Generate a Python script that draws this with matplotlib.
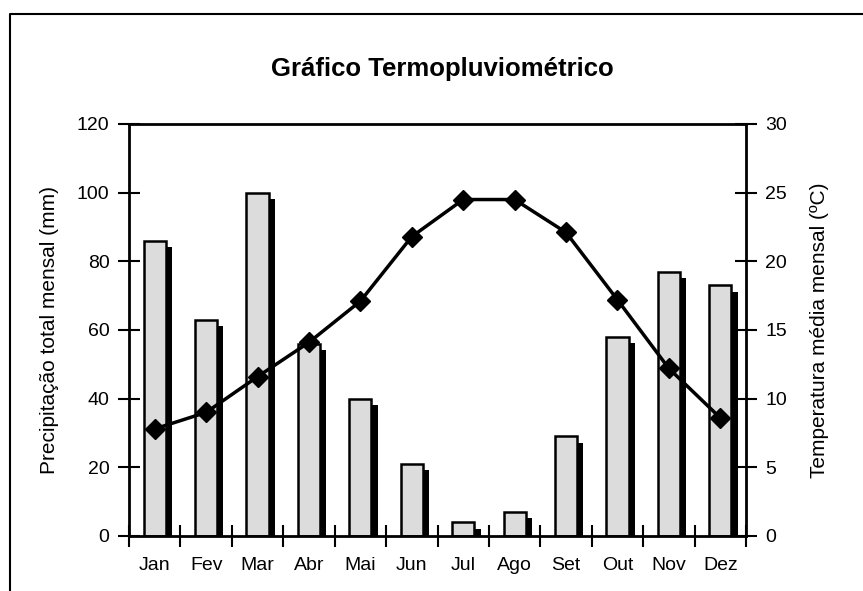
import matplotlib
matplotlib.use("Agg")
import matplotlib.pyplot as plt
import matplotlib.patheffects as pe
from matplotlib.lines import Line2D
import numpy as np

plt.rcParams['font.family'] = ['Liberation Sans', 'DejaVu Sans']

months = ["Jan", "Fev", "Mar", "Abr", "Mai", "Jun", "Jul", "Ago", "Set", "Out", "Nov", "Dez"]
precip = [86, 63, 100, 56, 40, 21, 4, 7, 29, 58, 77, 73]
temp = [7.8, 9.0, 11.6, 14.1, 17.1, 21.8, 24.5, 24.5, 22.1, 17.2, 12.2, 8.6]
left_ticks = [0, 20, 40, 60, 80, 100, 120]
right_ticks = [0, 5, 10, 15, 20, 25, 30]

fig = plt.figure(figsize=(8.63, 5.91), dpi=100)
ax = fig.add_axes([129/863, 1-536/591, (746-129)/863, (536-124)/591])
x = np.arange(len(months))

bars = ax.bar(x, precip, width=0.43, color="#dcdcdc", edgecolor="black", linewidth=1.8, zorder=2)
for b in bars:
    b.set_path_effects([pe.SimplePatchShadow(offset=(4.5, -4.5), shadow_rgbFace="black", alpha=1.0), pe.Normal()])

ax.set_xlim(-0.5, len(months) - 0.5)
ax.set_ylim(0, 120)
ax.set_yticks(left_ticks)
ax.set_xticks(x)
ax.set_xticklabels(months)
ax.tick_params(axis='x', length=0, pad=15, labelsize=14)
ax.set_xticks(np.arange(len(months) + 1) - 0.5, minor=True)
ax.tick_params(axis='x', which='minor', direction='inout', length=16, width=1.5)
ax.tick_params(axis='y', direction='inout', length=16, width=1.5, labelsize=14, pad=6)
for s in ['left', 'bottom', 'top']:
    ax.spines[s].set_linewidth(2)
ax.spines['right'].set_visible(False)
ax.set_ylabel("Precipitação total mensal (mm)", fontsize=15)
ax.yaxis.set_label_coords((59 - 129) / (746 - 129), 0.5)

ax2 = ax.twinx()
ax2.set_ylim(0, 30)
ax2.set_yticks(right_ticks)
ax2.plot(x, temp, color="black", linewidth=2.5, marker="D", markersize=10, zorder=3)
ax2.tick_params(axis='y', direction='inout', length=16, width=1.5, labelsize=14, pad=6)
ax2.spines['right'].set_linewidth(2)
for s in ['left', 'bottom', 'top']:
    ax2.spines[s].set_visible(False)
ax2.set_ylabel("Temperatura média mensal (ºC)", fontsize=15)
ax2.yaxis.set_label_coords((810 - 129) / (746 - 129), 0.5)

fig.text(442/863, 1-76/591, "Gráfico Termopluviométrico", ha="center", va="baseline",
         fontsize=18.5, fontweight="bold")

fig.add_artist(Line2D([10/863, 10/863, 1.0], [0.0, 1-14/591, 1-14/591],
                      transform=fig.transFigure, color="black", linewidth=1.5))

fig.savefig("out.png", dpi=100)
